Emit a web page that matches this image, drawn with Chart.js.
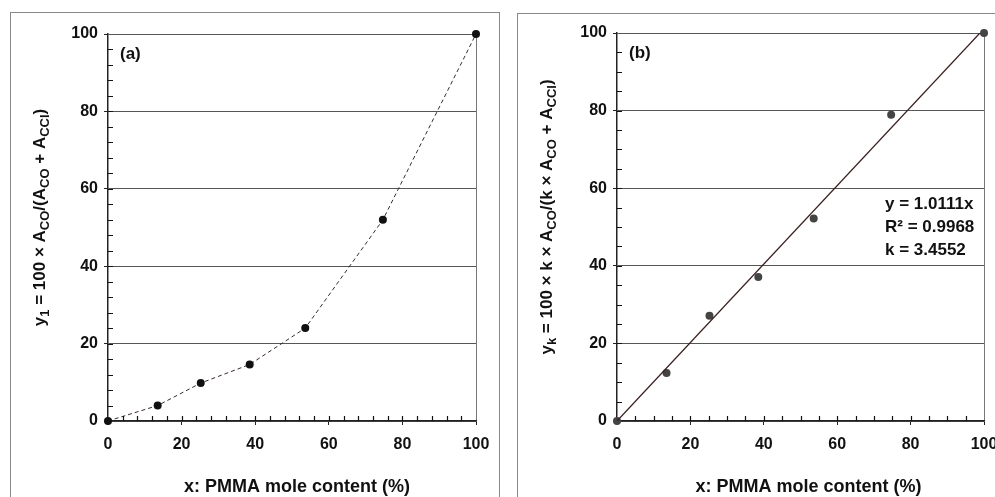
<!DOCTYPE html>
<html>
<head>
<meta charset="utf-8">
<script src="https://cdn.jsdelivr.net/npm/chart.js"></script>
<style>
  html, body { margin: 0; padding: 0; background: #fff; overflow: hidden; }
  body { width: 995px; height: 497px; position: relative; }
  .panel { position: absolute; border: 1.5px solid #888; box-sizing: border-box; }
  canvas { position: absolute; top: 0; }
</style>
</head>
<body>
<div class="panel" style="left:10px;top:12px;width:490px;height:520px;"></div>
<div class="panel" style="left:517px;top:13px;width:520px;height:520px;"></div>
<canvas id="chartA" style="left:0px"></canvas>
<canvas id="chartB" style="left:505px"></canvas>
<script>
// data
const xContent = [0, 13.5, 25.2, 38.5, 53.6, 74.7, 100];
const y1Values = [0, 4.0, 9.8, 14.6, 24.0, 52.0, 100];
const ykValues = [0, 12.4, 27.1, 37.1, 52.2, 78.9, 100];
const fitX = [0, 100];
const fitY = [0, 101.11];
const fitText = ['y = 1.0111x', 'R\u00B2 = 0.9968', 'k = 3.4552'];
const xTitle = 'x: PMMA mole content (%)';
const yTitleA = [['y',0],['1',1],[' = 100 \u00D7 A',0],['CO',1],['/(A',0],['CO',1],[' + A',0],['CCl',1],[')',0]];
const yTitleB = [['y',0],['k',1],[' = 100 \u00D7 k \u00D7 A',0],['CO',1],['/(k \u00D7 A',0],['CO',1],[' + A',0],['CCl',1],[')',0]];

const FONT = '"Liberation Sans", Arial, sans-serif';
const pts = (xs, ys) => xs.map((x, i) => ({x: x, y: ys[i]}));

function sizeCanvas(id, w, h){
  const c = document.getElementById(id);
  c.width = w; c.height = h;
  c.style.width = w + 'px'; c.style.height = h + 'px';
  return c;
}

// axis titles (y with subscripts), minor ticks, panel label, extra text
function decoPlugin(cfg){
  return {
    id: 'deco',
    afterDraw(chart){
      const ctx = chart.ctx;
      const xs = chart.scales.x, ys = chart.scales.y;
      const area = chart.chartArea;
      ctx.save();
      // minor ticks, pointing inward
      ctx.setLineDash([]);
      ctx.strokeStyle = '#111';
      ctx.lineWidth = 1.2;
      ctx.beginPath();
      for(let v = cfg.minor; v < 100; v += cfg.minor){
        const py = Math.round(ys.getPixelForValue(v)) + 0.5;
        ctx.moveTo(area.left, py); ctx.lineTo(area.left + 5, py);
        const px = Math.round(xs.getPixelForValue(v)) + 0.5;
        ctx.moveTo(px, area.bottom); ctx.lineTo(px, area.bottom - 5);
      }
      ctx.stroke();

      ctx.fillStyle = '#111';
      // x axis title
      ctx.font = 'bold 18px ' + FONT;
      ctx.textAlign = 'center';
      ctx.textBaseline = 'middle';
      ctx.fillText(xTitle, (area.left + area.right) / 2 + cfg.xTitleShift, 487);

      // y axis title
      const big = 'bold 17px ' + FONT, small = 'bold 13px ' + FONT;
      ctx.textAlign = 'left';
      let total = 0;
      cfg.yTitle.forEach(s => { ctx.font = s[1] ? small : big; total += ctx.measureText(s[0]).width; });
      ctx.translate(cfg.yTitleX, (area.top + area.bottom) / 2 - 10);
      ctx.rotate(-Math.PI / 2);
      let cx = -total / 2;
      cfg.yTitle.forEach(s => {
        ctx.font = s[1] ? small : big;
        ctx.fillText(s[0], cx, s[1] ? 5 : 0);
        cx += ctx.measureText(s[0]).width;
      });
      ctx.setTransform(1, 0, 0, 1, 0, 0);

      // panel label
      ctx.font = 'bold 17px ' + FONT;
      ctx.fillText(cfg.label, area.left + 12, area.top + 20);

      // fit text
      if(cfg.lines){
        ctx.font = 'bold 17px ' + FONT;
        cfg.lines.forEach((t, i) => ctx.fillText(t, cfg.linesX, cfg.linesY + i * 23));
      }
      ctx.restore();
    }
  };
}

function scales(padRight){
  const tickFont = {family: FONT, size: 16, weight: 'bold'};
  return {
    x: {
      type: 'linear', min: 0, max: 100,
      afterFit: s => { s.height = 76; },
      ticks: {stepSize: 20, color: '#111', font: tickFont, padding: 10, maxRotation: 0},
      grid: {
        color: c => c.tick && c.tick.value === 100 ? '#777' : 'rgba(0,0,0,0)',
        tickColor: '#222', tickLength: 4, lineWidth: 1
      },
      border: {color: '#222', width: 1.5}
    },
    y: {
      type: 'linear', min: 0, max: 100,
      afterFit: s => { s.width = padRight; },
      ticks: {stepSize: 20, color: '#111', font: tickFont, padding: 6},
      grid: {color: '#555', tickColor: '#222', tickLength: 4, lineWidth: 1},
      border: {color: '#222', width: 1.5}
    }
  };
}

const cA = sizeCanvas('chartA', 500, 497);
new Chart(cA, {
  type: 'scatter',
  data: {
    datasets: [{
      data: pts(xContent, y1Values),
      showLine: true, clip: false,
      borderColor: '#3a2a2a', borderWidth: 1, borderDash: [4, 3],
      pointRadius: 4, pointBackgroundColor: '#111', pointBorderColor: '#111', pointBorderWidth: 0
    }]
  },
  options: {
    responsive: false, animation: false, events: [],
    layout: {padding: {left: 0, top: 34, right: 24, bottom: 0}},
    plugins: {legend: {display: false}, tooltip: {enabled: false}},
    scales: scales(108)
  },
  plugins: [decoPlugin({minor: 4, yTitle: yTitleA, yTitleX: 40, xTitleShift: 5, label: '(a)'})]
});

const cB = sizeCanvas('chartB', 510, 497);
new Chart(cB, {
  type: 'scatter',
  data: {
    datasets: [{
      data: pts(fitX, fitY),
      showLine: true,
      borderColor: '#3a2020', borderWidth: 1.3,
      pointRadius: 0
    }, {
      data: pts(xContent, ykValues),
      clip: false,
      pointRadius: 4, pointBackgroundColor: '#444', pointBorderColor: '#444', pointBorderWidth: 0
    }]
  },
  options: {
    responsive: false, animation: false, events: [],
    layout: {padding: {left: 0, top: 33, right: 31, bottom: 0}},
    plugins: {legend: {display: false}, tooltip: {enabled: false}},
    scales: scales(112)
  },
  plugins: [decoPlugin({minor: 5, yTitle: yTitleB, yTitleX: 42, xTitleShift: 8, label: '(b)',
                        lines: fitText, linesX: 380, linesY: 204})]
});
</script>
</body>
</html>
